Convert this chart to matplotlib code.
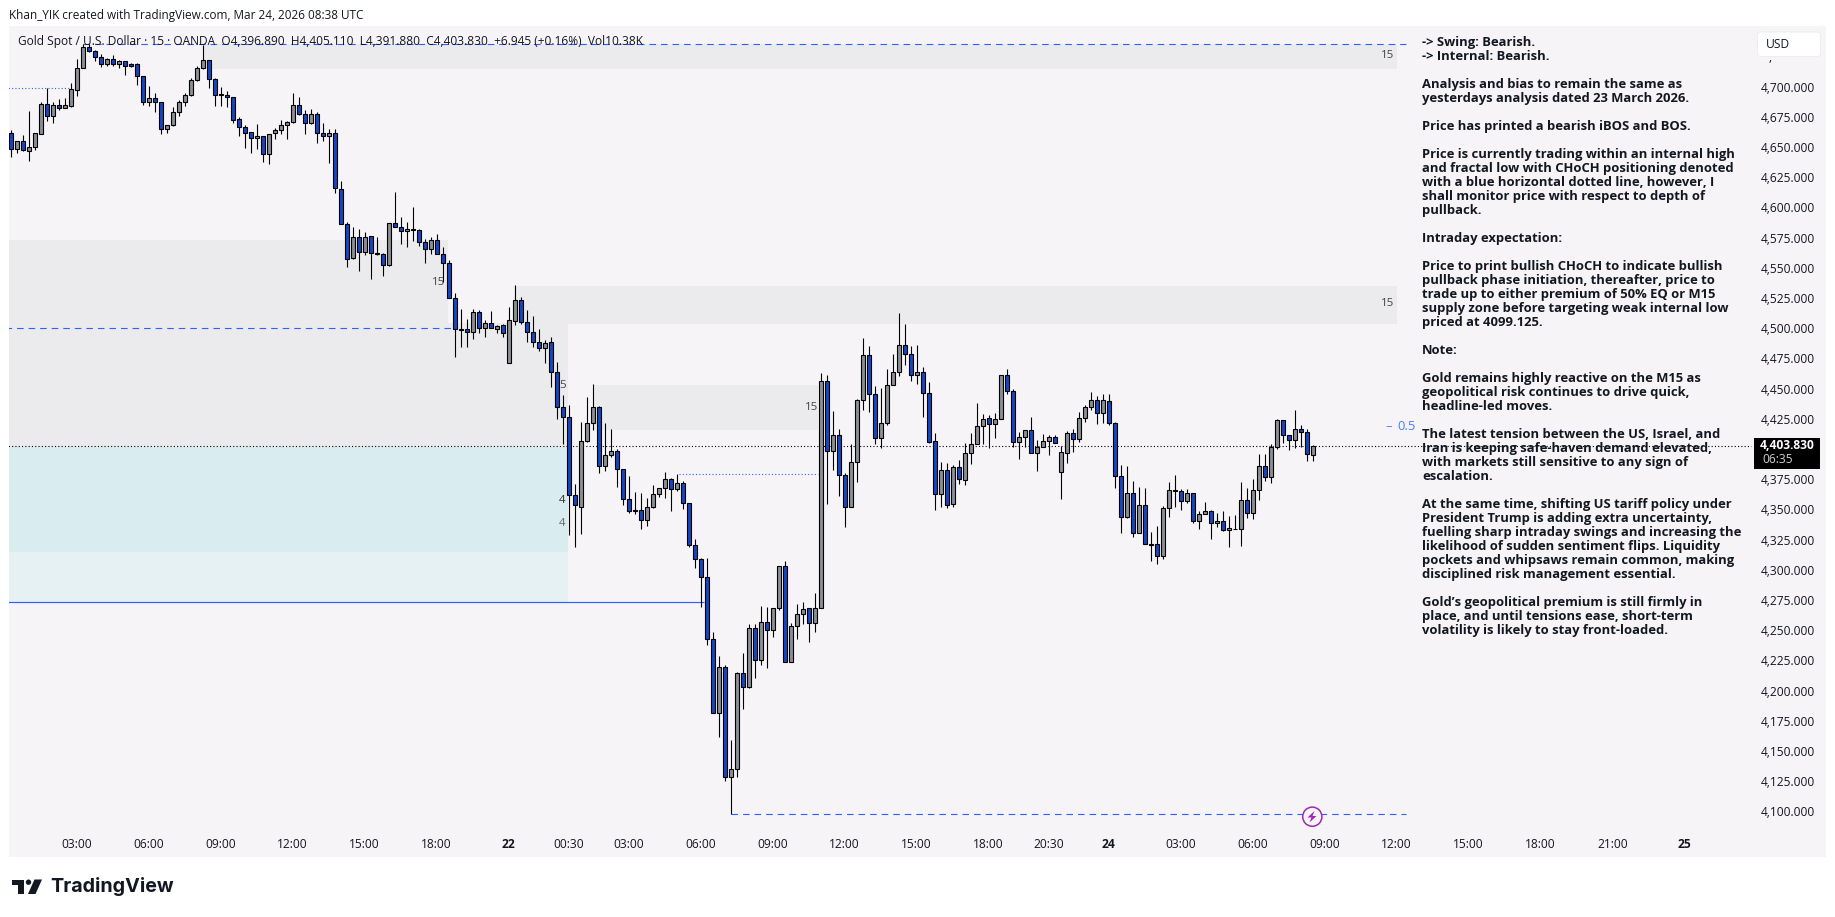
import matplotlib
matplotlib.use("Agg")
import matplotlib.pyplot as plt
from matplotlib.patches import Circle, FancyBboxPatch, Polygon, Rectangle
from matplotlib.transforms import ScaledTranslation

W, H = 1835, 917
PX = 0.72  # one pixel in points at dpi 100

# OHLC of the 15 minute bars, left to right
opens = [4663.0,4649.8,4656.4,4648.6,4652.0,4662.7,4687.0,4677.6,4686.2,4684.3,4685.9,4698.6,4717.4,4734.2,4730.9,4726.5,4720.1,4724.3,4720.1,4722.6,4720.1,4720.1,4710.2,4688.7,4692.0,4688.7,4666.9,4669.6,4680.4,4688.7,
         4694.5,4706.9,4716.8,4723.4,4707.7,4695.3,4694.5,4692.8,4674.6,4668.0,4663.8,4658.9,4660.5,4645.6,4663.0,4666.0,4669.6,4672.1,4686.2,4678.7,4671.3,4678.7,4663.0,4660.5,4663.0,4616.6,4587.7,4559.5,4576.9,4564.5,
         4577.7,4563.6,4562.8,4553.7,4588.5,4585.2,4581.9,4583.5,4582.7,4572.7,4566.9,4574.4,4563.4,4555.4,4526.4,4500.7,4500.7,4498.8,4514.8,4502.1,4505.7,4500.9,4504.0,4472.6,4507.9,4524.7,4507.1,4498.8,4490.5,4485.5,
         4489.9,4465.1,4436.7,4427.8,4363.8,4353.9,4408.5,4422.9,4436.1,4387.8,4396.4,4399.7,4384.8,4360.5,4350.8,4350.8,4342.6,4353.3,4364.1,4369.1,4376.5,4368.2,4373.2,4356.6,4321.9,4310.3,4295.4,4244.0,4183.3,4220.8,
         4130.3,4136.4,4215.9,4204.8,4253.1,4226.6,4258.1,4251.5,4269.7,4304.5,4225.0,4254.8,4264.7,4269.7,4257.3,4269.7,4457.7,4399.7,4412.9,4379.8,4353.3,4390.6,4441.9,4479.2,4446.9,4410.5,4422.9,4454.3,4465.1,4487.5,
         4480.0,4462.6,4465.1,4447.7,4408.0,4364.1,4384.0,4355.8,4386.4,4375.7,4398.0,4405.5,4420.4,4427.0,4422.1,4426.2,4462.6,4449.4,4407.1,4411.3,4417.1,4398.6,4403.6,4408.0,4411.3,4382.9,4398.6,4414.6,4409.6,4427.0,
         4436.1,4441.9,4431.2,4441.1,4422.9,4379.0,4345.0,4364.9,4331.8,4355.0,4322.7,4322.7,4312.8,4352.5,4367.4,4366.6,4358.3,4364.9,4341.7,4347.5,4350.0,4340.1,4341.7,4334.3,4335.7,4335.1,4359.1,4348.4,4367.4,4387.3,
         4378.2,4403.0,4425.4,4412.9,4408.8,4417.9,4415.4,4396.89]
highs = [4665.8,4656.7,4661.6,4681.5,4663.0,4689.2,4700.3,4689.2,4691.4,4692.0,4704.4,4724.3,4737.0,4737.0,4732.0,4728.7,4725.1,4727.9,4723.7,4723.2,4721.0,4721.5,4710.7,4702.5,4696.1,4689.2,4669.6,4685.1,4690.6,4696.1,
         4708.5,4718.8,4736.1,4723.4,4708.5,4701.6,4698.3,4692.8,4676.2,4669.9,4664.4,4670.4,4660.5,4662.7,4667.7,4674.0,4673.5,4696.1,4692.8,4682.3,4683.1,4680.9,4671.3,4666.3,4666.3,4623.5,4589.9,4585.7,4583.5,4581.6,
         4578.0,4576.9,4563.6,4589.0,4614.4,4593.4,4589.9,4601.7,4583.5,4575.2,4576.9,4579.4,4568.6,4558.1,4530.5,4517.5,4509.3,4517.5,4516.7,4508.4,4515.9,4504.3,4505.1,4518.9,4537.4,4527.2,4516.7,4511.8,4500.7,4491.9,
         4494.1,4473.7,4446.3,4438.1,4372.6,4424.3,4444.4,4455.4,4437.2,4422.9,4418.2,4401.4,4384.8,4379.3,4366.0,4364.9,4360.8,4371.8,4369.1,4382.6,4377.3,4380.7,4375.4,4356.6,4326.8,4311.1,4311.1,4249.8,4230.2,4222.5,
         4160.7,4216.7,4232.4,4256.4,4256.4,4271.6,4270.8,4269.7,4304.5,4308.9,4257.3,4273.3,4274.9,4269.7,4282.4,4464.3,4462.6,4432.8,4417.9,4381.5,4405.8,4442.8,4493.3,4486.9,4453.8,4452.1,4467.9,4480.3,4514.0,4504.8,
         4486.9,4487.7,4469.2,4457.1,4414.6,4390.9,4390.0,4388.1,4392.5,4406.3,4414.6,4439.4,4430.3,4429.5,4431.2,4462.6,4467.6,4451.0,4415.4,4417.1,4427.8,4409.1,4413.8,4412.9,4413.2,4404.1,4416.8,4417.9,4432.3,4437.8,
         4448.5,4445.5,4447.2,4447.2,4424.0,4388.4,4387.6,4374.9,4369.9,4369.1,4332.9,4337.9,4354.4,4374.3,4380.1,4368.2,4368.2,4364.9,4350.0,4357.7,4350.8,4348.4,4350.0,4346.2,4347.0,4374.3,4369.1,4376.5,4397.5,4397.5,
         4405.5,4426.2,4425.4,4412.9,4433.9,4421.5,4417.9,4405.11]
lows = [4643.1,4646.4,4648.6,4640.4,4649.2,4662.2,4673.2,4671.8,4682.3,4683.7,4684.5,4694.2,4717.4,4730.6,4722.9,4718.2,4719.0,4719.0,4716.8,4711.6,4718.2,4702.7,4686.2,4685.6,4680.9,4662.4,4663.6,4669.3,4677.4,4685.6,
        4694.2,4706.3,4716.3,4700.3,4685.6,4685.6,4684.5,4671.8,4661.1,4651.1,4647.0,4650.0,4639.3,4637.9,4658.0,4662.4,4658.3,4671.8,4678.2,4662.4,4670.7,4655.3,4656.7,4638.2,4613.9,4587.7,4552.6,4558.7,4549.3,4562.3,
        4542.1,4562.3,4545.1,4553.2,4585.2,4571.1,4569.2,4573.9,4569.7,4555.9,4563.1,4562.8,4540.2,4526.4,4478.1,4486.4,4486.4,4492.4,4497.4,4494.6,4501.5,4497.9,4494.6,4472.6,4504.3,4505.1,4490.5,4486.4,4483.0,4473.1,
        4453.2,4426.7,4405.8,4330.4,4320.8,4331.2,4407.7,4417.4,4382.0,4383.4,4395.3,4370.4,4355.3,4348.9,4347.8,4335.7,4337.9,4353.1,4362.2,4361.1,4350.6,4367.1,4352.2,4320.8,4303.4,4271.1,4239.3,4183.3,4163.4,4127.0,
        4099.125,4130.3,4186.3,4203.7,4212.0,4222.8,4220.3,4246.0,4268.3,4225.0,4225.0,4244.3,4256.7,4241.8,4250.1,4269.7,4356.1,4384.2,4362.7,4337.3,4353.3,4374.3,4433.9,4432.3,4405.8,4402.4,4421.2,4454.3,4462.1,4471.2,
        4457.9,4455.4,4428.1,4406.9,4351.1,4353.9,4352.8,4353.9,4372.6,4371.8,4389.2,4405.5,4405.5,4402.4,4410.7,4426.2,4447.2,4403.6,4393.6,4403.0,4398.0,4383.4,4403.6,4396.7,4406.3,4360.2,4390.3,4399.1,4407.4,4424.3,
        4433.9,4422.3,4423.4,4421.2,4369.3,4332.3,4344.2,4329.0,4331.8,4322.7,4309.2,4306.4,4310.8,4345.6,4353.3,4351.1,4356.6,4340.1,4335.4,4347.5,4327.1,4337.3,4333.5,4320.8,4335.1,4321.3,4344.5,4343.9,4359.4,4375.4,
        4373.8,4401.4,4406.3,4400.8,4402.2,4403.6,4391.7,4391.88]
closes = [4649.8,4656.7,4648.9,4652.0,4663.0,4687.0,4677.6,4686.2,4684.3,4686.2,4699.4,4717.4,4734.2,4730.9,4726.5,4720.1,4724.3,4720.1,4722.6,4719.0,4719.0,4710.2,4688.7,4692.0,4688.7,4666.3,4669.6,4680.4,4688.7,4694.5,
          4706.9,4716.8,4723.4,4707.7,4694.5,4694.5,4692.8,4674.3,4668.0,4663.6,4658.9,4660.5,4645.6,4662.7,4666.0,4669.6,4672.1,4686.2,4678.7,4671.3,4678.7,4663.0,4660.5,4663.0,4617.5,4587.7,4558.7,4576.9,4564.5,4576.9,
          4563.6,4563.1,4553.7,4588.5,4585.2,4581.9,4583.5,4582.7,4572.7,4566.9,4574.4,4563.4,4555.4,4526.4,4500.7,4500.4,4498.8,4514.8,4502.1,4505.7,4502.1,4503.7,4497.9,4508.2,4525.0,4507.1,4498.8,4490.5,4485.5,4489.7,
          4465.1,4436.7,4427.8,4363.8,4355.0,4408.5,4422.9,4436.1,4387.8,4396.4,4399.7,4384.8,4360.5,4350.0,4350.0,4342.6,4353.3,4364.1,4369.1,4376.5,4368.2,4373.2,4356.6,4322.4,4310.3,4295.4,4244.0,4183.3,4220.8,4130.3,
          4136.4,4215.9,4204.3,4253.1,4226.6,4258.1,4251.5,4269.7,4304.5,4225.0,4254.8,4264.7,4268.9,4257.3,4269.7,4457.7,4399.7,4412.9,4379.8,4353.3,4390.6,4441.9,4479.2,4446.9,4410.5,4422.9,4454.3,4465.1,4487.5,4480.0,
          4462.6,4465.1,4447.7,4407.4,4364.1,4384.0,4355.0,4386.4,4376.5,4398.0,4405.5,4420.4,4426.2,4422.1,4426.2,4462.6,4449.4,4407.1,4411.3,4417.1,4398.0,4403.6,4408.0,4411.3,4406.9,4398.9,4414.6,4409.6,4427.0,4436.1,
          4441.9,4431.2,4441.9,4422.9,4379.0,4345.0,4364.9,4331.8,4355.0,4322.7,4322.4,4312.8,4352.5,4367.4,4366.6,4358.3,4364.9,4341.7,4347.5,4350.0,4340.1,4341.7,4334.3,4335.9,4335.4,4359.1,4348.4,4367.4,4387.3,4378.2,
          4403.0,4425.4,4412.9,4408.8,4417.9,4415.4,4397.2,4403.83]

# axis labels: bar index of each time label
time_pos = [11, 23, 35, 47, 59, 71, 83, 93, 103, 115, 127, 139, 151, 163, 173, 183, 195, 207, 219, 231, 243, 255, 267, 279]
time_labels = ["03:00", "06:00", "09:00", "12:00", "15:00", "18:00", "22", "00:30", "03:00", "06:00", "09:00", "12:00",
               "15:00", "18:00", "20:30", "24", "03:00", "06:00", "09:00", "12:00", "15:00", "18:00", "21:00", "25"]
bold_times = ["22", "24", "25"]
price_ticks = list(range(4100, 4725, 25))

# zones: bar from, bar to, price low, price high
grey_zones = [(32.2, 231, 4716.3, 4736.6), (-1, 72.9, 4505.9, 4574.7), (-1, 92.9, 4403.6, 4505.9),
              (83.9, 231, 4505.3, 4536.6), (97.2, 134.6, 4417.2, 4454.6)]
teal_zone = (-1, 92.9, 4316.7, 4403.6)
pale_zone = (-1, 92.9, 4274.7, 4316.7)

swing_high = 4736.6
weak_low = 4099.125
last_price = 4403.83
choch_level = 4380.7
ibos_level = 4700.3
bos_level = 4502.2
demand_line = 4274.7

note_lines = ["-> Swing: Bearish.", "-> Internal: Bearish.", "",
              "Analysis and bias to remain the same as", "yesterdays analysis dated 23 March 2026.", "",
              "Price has printed a bearish iBOS and BOS.", "",
              "Price is currently trading within an internal high", "and fractal low with CHoCH positioning denoted",
              "with a blue horizontal dotted line, however, I", "shall monitor price with respect to depth of", "pullback.", "",
              "Intraday expectation:", "",
              "Price to print bullish CHoCH to indicate bullish", "pullback phase initiation, thereafter, price to",
              "trade up to either premium of 50% EQ or M15", "supply zone before targeting weak internal low", "priced at 4099.125.", "",
              "Note:", "",
              "Gold remains highly reactive on the M15 as", "geopolitical risk continues to drive quick,", "headline-led moves.", "",
              "The latest tension between the US, Israel, and", "Iran is keeping safe-haven demand elevated,",
              "with markets still sensitive to any sign of", "escalation.", "",
              "At the same time, shifting US tariff policy under", "President Trump is adding extra uncertainty,",
              "fuelling sharp intraday swings and increasing the", "likelihood of sudden sentiment flips. Liquidity",
              "pockets and whipsaws remain common, making", "disciplined risk management essential.", "",
              "Gold\u2019s geopolitical premium is still firmly in", "place, and until tensions ease, short-term",
              "volatility is likely to stay front-loaded."]

UP = "#8b8e95"
DOWN = "#1546c4"
BLUE = "#2962ff"
INK = "#131722"
PANE = "#f6f4f6"

fig = plt.figure(figsize=(W / 100, H / 100), dpi=100, facecolor="white")
left, right, top, bottom = 9, 1825.7, 26, 857.3
ax = fig.add_axes([left / W, 1 - bottom / H, (right - left) / W, (bottom - top) / H], facecolor=PANE)
ax.set_xlim((left - 10.7) / 6, (right - 10.7) / 6)
ax.set_ylim(4773.4 - 0.828 * bottom, 4773.4 - 0.828 * top)
for s in ax.spines.values():
    s.set_visible(False)

# zones
for x0, x1, y0, y1 in grey_zones:
    ax.add_patch(Rectangle((x0, y0), x1 - x0, y1 - y0, fc="#ebebed", ec="none", zorder=1))
ax.add_patch(Rectangle((teal_zone[0], teal_zone[2]), teal_zone[1] - teal_zone[0], teal_zone[3] - teal_zone[2], fc="#d9edf0", ec="none", zorder=1))
ax.add_patch(Rectangle((pale_zone[0], pale_zone[2]), pale_zone[1] - pale_zone[0], pale_zone[3] - pale_zone[2], fc="#e6f1f3", ec="none", zorder=1))

# structure lines
dash = (0, (6, 4.5))
ax.hlines(swing_high, 12, 232.5, color=BLUE, lw=PX * 1.1, linestyles=[dash], zorder=2)
ax.hlines(weak_low, 120, 232.5, color=BLUE, lw=PX * 1.1, linestyles=[dash], zorder=2)
ax.hlines(bos_level, -1, 74, color=BLUE, lw=PX * 1.1, linestyles=[dash], zorder=2)
ax.hlines(ibos_level, -1, 10, color=BLUE, lw=PX * 1.1, linestyles=[(0, (1, 2))], zorder=2)
ax.hlines(choch_level, 111.4, 134.6, color=BLUE, lw=PX * 1.1, linestyles=[(0, (1, 2))], zorder=2)
ax.hlines(demand_line, -1, 115.6, color=BLUE, lw=PX * 1.2, zorder=2)
ax.hlines(last_price, -1, 290, color="black", lw=PX * 1.1, linestyles=[(0, (1, 2))], zorder=2.2)

# candles
xs = list(range(len(opens)))
colors = [UP if c >= o else DOWN for o, c in zip(opens, closes)]
ax.vlines(xs, lows, highs, color="black", lw=PX * 1.1, zorder=3)
ax.bar(xs, [abs(c - o) for o, c in zip(opens, closes)], bottom=[min(o, c) for o, c in zip(opens, closes)],
       width=0.68, color=colors, edgecolor="black", linewidth=PX * 1.1, zorder=3.5)

# axes inside the pane, as on the chart
ax.yaxis.tick_right()
ax.set_yticks(price_ticks)
ax.set_yticklabels([f"{p:,.3f}" for p in price_ticks], ha="right", fontsize=12 * PX, color=INK, family="Open Sans")
ax.tick_params(axis="y", length=0, pad=-11 * PX)
nudge = ScaledTranslation(0, 2 / 100, fig.dpi_scale_trans)
for lab in ax.get_yticklabels():
    lab.set_transform(lab.get_transform() + nudge)
ax.set_xticks(time_pos)
ax.set_xticklabels(time_labels, fontsize=12 * PX, color=INK, family="Open Sans")
for lab in ax.get_xticklabels():
    if lab.get_text() in bold_times:
        lab.set_fontweight("bold")
ax.tick_params(axis="x", length=0, pad=-19.5 * PX)

# everything below is placed by pixel on the page
ov = fig.add_axes([0, 0, 1, 1], facecolor="none")
ov.set_xlim(0, W)
ov.set_ylim(H, 0)
ov.axis("off")

for sx, sy, t, c in [(1387.5, 56, "15", "#444444"), (1387.5, 304, "15", "#444444"), (439, 282.5, "15", "#444444"),
                     (811.5, 407.5, "15", "#444444"), (562.5, 385.5, "5", "#444444"), (562.5, 500.5, "4", "#333333"),
                     (562.5, 523, "4", "#666666")]:
    ov.text(sx, sy, t, ha="center", va="center", fontsize=11.5 * PX, color=c, family="Open Sans", zorder=4)
ov.text(1392, 427, "\u2013", ha="right", va="center", fontsize=13 * PX, color="#4a7dff", family="Open Sans")
ov.text(1416, 427, "0.5", ha="right", va="center", fontsize=13 * PX, color="#4a7dff", family="Open Sans")

ov.text(9, 15, "Khan_YIK created with TradingView.com, Mar 24, 2026 08:38 UTC", va="center", fontsize=11.75 * PX, color=INK, family="Open Sans")
ov.text(18, 41, "Gold Spot / U.S. Dollar \u00b7 15 \u00b7 OANDA  O4,396.890  H4,405.110  L4,391.880  C4,403.830  +6.945 (+0.16%)  Vol10.38K",
        va="center", fontsize=11.9 * PX, color=INK, family="Open Sans")

for i, line in enumerate(note_lines):
    if line:
        ov.text(1422, 42.3 + 14 * i, line, va="center", fontsize=13 * PX, fontweight="bold", color="#131722", family="Open Sans", zorder=6)

# USD box and last price box
ov.add_patch(FancyBboxPatch((1759, 33.5), 60, 21.5, boxstyle="round,pad=1.5,rounding_size=3", fc="white", ec="#eeeeee", lw=PX, zorder=5))
ov.text(1766, 44.7, "USD", va="center", fontsize=12 * PX, color=INK, family="Open Sans", zorder=6)
ov.text(1770, 57.5, ",", ha="center", va="center", fontsize=12 * PX, color=INK, family="Open Sans", zorder=4)
ov.add_patch(Rectangle((1754, 438.3), 66, 30.4, fc="black", ec="none", zorder=5))
ov.text(1814.7, 445.7, "4,403.830", ha="right", va="center", fontsize=12 * PX, fontweight="bold", color="white", family="Open Sans", zorder=6)
ov.text(1762, 459.3, "06:35", va="center", fontsize=12 * PX, color="#d0d0d0", family="Open Sans", zorder=6)

# lightning marker
ov.add_patch(Circle((1312.3, 816.7), 9.6, fc=PANE, ec="#9c27b0", lw=PX * 1.5, zorder=5))
ov.add_patch(Polygon([(1314.5, 811), (1307.5, 817.5), (1311.5, 817.5), (1309.5, 822.5), (1316.5, 816), (1312.5, 816)], fc="#9c27b0", ec="none", zorder=6))

# TradingView logo
ov.add_patch(Polygon([(12, 879.5), (23.5, 879.5), (23.5, 894), (18, 894), (18, 884.5), (12, 884.5)], fc="#131722", ec="none"))
ov.add_patch(Circle((28.5, 882.2), 2.7, fc="#131722", ec="none"))
ov.add_patch(Polygon([(34.5, 879.5), (42, 879.5), (35.5, 894), (28, 894)], fc="#131722", ec="none"))
ov.text(50, 887, "TradingView", va="center", fontsize=19.7 * PX, fontweight="bold", color="#131722", family="Inter")

fig.savefig("out.png", dpi=100, facecolor="white")
